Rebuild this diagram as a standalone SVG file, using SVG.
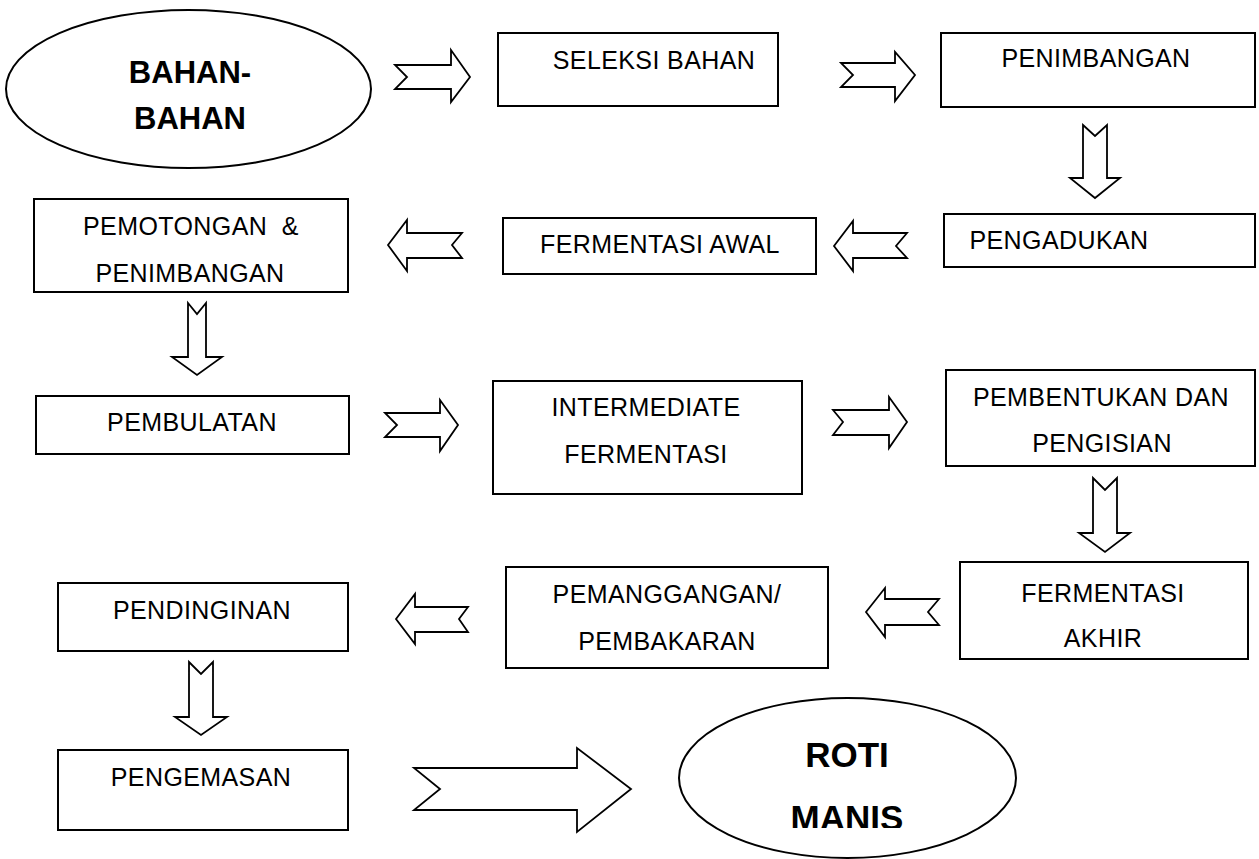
<svg xmlns="http://www.w3.org/2000/svg" width="1259" height="859" viewBox="0 0 1259 859">
<style>
.box{fill:#fff;stroke:#000;stroke-width:2}
.ell{fill:#fff;stroke:#000;stroke-width:2}
.arr{fill:#fff;stroke:#000;stroke-width:1.8;stroke-linejoin:miter}
.t{font-family:"Liberation Sans",Arial,sans-serif;font-size:25px;letter-spacing:0.4px;fill:#000;text-anchor:middle;white-space:pre}
.b{font-family:"Liberation Sans",Arial,sans-serif;font-weight:bold;fill:#000;text-anchor:middle}
</style>
<defs>
<clipPath id="clipManis"><rect x="600" y="690" width="500" height="138"/></clipPath>
</defs>
<rect width="1259" height="859" fill="#fff"/>
<g id="connectors">
<polygon class="arr" points="395,65 451,65 451,50 470,77 451,102 451,89 395,89 407,77"/>
<polygon class="arr" points="841,63 895,63 895,52 915,75 895,101 895,87 841,87 853,75"/>
<polygon class="arr" points="1083,125 1095,136 1107,125 1107,178 1120,178 1095,198 1070,178 1083,178"/>
<polygon class="arr" points="834,246 853,221 853,233 907,233 896,246 907,258 853,258 853,271"/>
<polygon class="arr" points="388,245 407,220 407,233 462,233 452,245 462,258 407,258 407,271"/>
<polygon class="arr" points="188,303 197,314 206,303 206,357 222,357 197,375 172,357 188,357"/>
<polygon class="arr" points="385,413 440,413 440,400 458,425 440,451 440,437 385,437 397,425"/>
<polygon class="arr" points="833,410 889,410 889,397 907,422 889,448 889,435 833,435 843,422"/>
<polygon class="arr" points="1093,478 1105,490 1117,478 1117,533 1130,533 1105,552 1079,533 1093,533"/>
<polygon class="arr" points="866,612 885,588 885,599 939,599 928,612 939,625 885,625 885,637"/>
<polygon class="arr" points="396,619 415,594 415,607 468,607 459,619 468,632 415,632 415,644"/>
<polygon class="arr" points="189,662 201,674 213,662 213,717 227,717 201,735 175,717 189,717"/>
<polygon class="arr" points="414,768 577,768 577,748 631,789 577,832 577,810 414,810 440,789"/>
</g>
<g id="bahan">
<ellipse class="ell" cx="188.5" cy="89" rx="182.5" ry="79"/>
<text class="b" font-size="31" x="190" y="83">BAHAN-</text>
<text class="b" font-size="31" x="190" y="129">BAHAN</text>
</g>
<g id="seleksi">
<rect class="box" x="498" y="33" width="280" height="73"/>
<text class="t" x="654" y="69">SELEKSI BAHAN</text>
</g>
<g id="penimbangan">
<rect class="box" x="941" y="33" width="314" height="74"/>
<text class="t" x="1096" y="67">PENIMBANGAN</text>
</g>
<g id="pengadukan">
<rect class="box" x="944" y="214" width="311" height="53"/>
<text class="t" x="1059" y="249">PENGADUKAN</text>
</g>
<g id="fermentasi-awal">
<rect class="box" x="503" y="218" width="313" height="56"/>
<text class="t" x="660" y="253">FERMENTASI AWAL</text>
</g>
<g id="pemotongan">
<rect class="box" x="34" y="199" width="314" height="93"/>
<text class="t" x="191" y="235">PEMOTONGAN  &amp;</text>
<text class="t" x="190" y="282">PENIMBANGAN</text>
</g>
<g id="pembulatan">
<rect class="box" x="36" y="396" width="313" height="58"/>
<text class="t" x="192" y="431">PEMBULATAN</text>
</g>
<g id="intermediate">
<rect class="box" x="493" y="381" width="309" height="113"/>
<text class="t" x="646" y="416">INTERMEDIATE</text>
<text class="t" x="646" y="463">FERMENTASI</text>
</g>
<g id="pembentukan">
<rect class="box" x="946" y="370" width="309" height="96"/>
<text class="t" x="1101" y="406">PEMBENTUKAN DAN</text>
<text class="t" x="1102" y="452">PENGISIAN</text>
</g>
<g id="fermentasi-akhir">
<rect class="box" x="960" y="562" width="288" height="97"/>
<text class="t" x="1103" y="602">FERMENTASI</text>
<text class="t" x="1103" y="647">AKHIR</text>
</g>
<g id="pemanggangan">
<rect class="box" x="506" y="567" width="322" height="101"/>
<text class="t" x="667" y="603">PEMANGGANGAN/</text>
<text class="t" x="667" y="650">PEMBAKARAN</text>
</g>
<g id="pendinginan">
<rect class="box" x="58" y="583" width="290" height="68"/>
<text class="t" x="202" y="619">PENDINGINAN</text>
</g>
<g id="pengemasan">
<rect class="box" x="58" y="750" width="290" height="80"/>
<text class="t" x="201" y="786">PENGEMASAN</text>
</g>
<g id="roti-manis">
<ellipse class="ell" cx="847.5" cy="778" rx="168.5" ry="80"/>
<text class="b" font-size="35" x="847" y="767">ROTI</text>
<text class="b" font-size="35" x="847" y="830" clip-path="url(#clipManis)">MANIS</text>
</g>
</svg>
